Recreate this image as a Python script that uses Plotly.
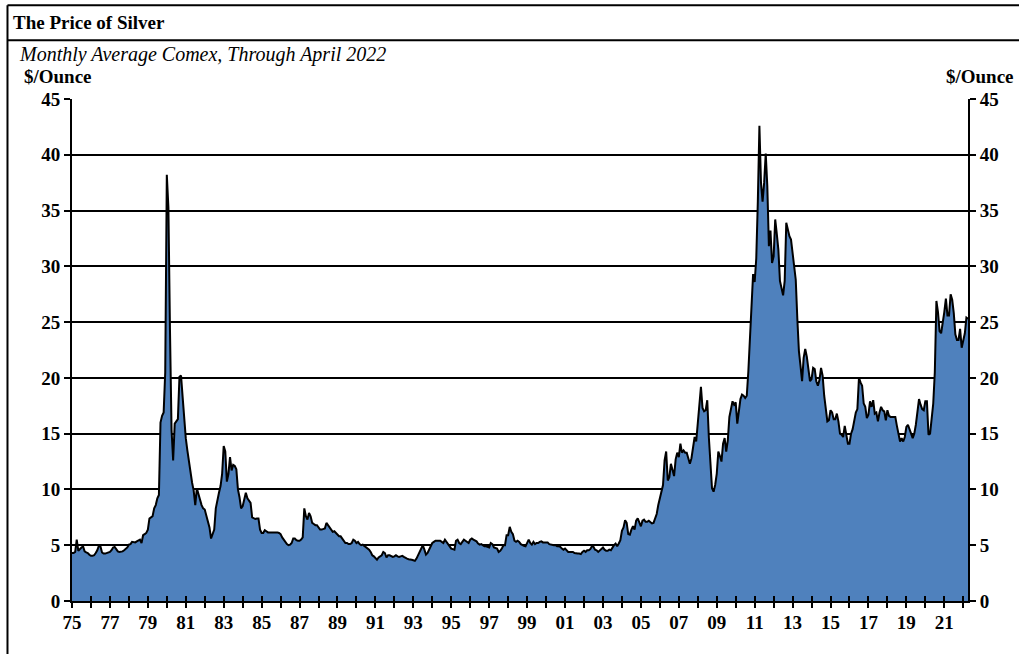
import plotly.graph_objects as go

# Silver, monthly average Comex price ($/oz), Jan 1975 - Apr 2022.
# Values, one row per year.
silver_1975_1984 = [
    4.30, 4.30, 4.40, 5.50, 4.50, 4.70, 4.80, 4.90, 4.45, 4.35, 4.30, 4.15,
    4.05, 4.05, 4.10, 4.30, 4.55, 4.95, 4.90, 4.35, 4.25, 4.25, 4.30, 4.40,
    4.40, 4.55, 4.80, 4.85, 4.65, 4.45, 4.40, 4.40, 4.45, 4.55, 4.65, 4.80,
    5.05, 5.10, 5.30, 5.30, 5.25, 5.35, 5.45, 5.50, 5.20, 5.90, 6.00, 6.10,
    6.40, 7.40, 7.50, 7.60, 8.30, 8.60, 9.20, 9.50, 16.00, 16.60, 16.90, 20.50,
    38.20, 35.30, 24.30, 15.30, 12.60, 15.90, 16.10, 16.30, 20.10, 20.20, 18.30, 16.00,
    14.60, 13.50, 12.40, 11.30, 10.60, 9.90, 8.60, 10.10, 9.50, 9.10, 8.60, 8.30,
    8.20, 7.70, 7.10, 6.60, 5.60, 6.00, 6.40, 8.30, 9.20, 9.70, 10.30, 11.40,
    13.90, 13.40, 10.70, 11.40, 12.90, 11.70, 12.20, 12.10, 11.80, 10.00, 9.30, 8.30,
    8.50, 9.10, 9.70, 9.20, 9.00, 8.80, 7.50, 7.40, 7.35, 7.40, 7.40, 6.40,
]
silver_1985_1994 = [
    6.10, 6.10, 6.35, 6.25, 6.15, 6.15, 6.15, 6.20, 6.15, 6.20, 6.15, 6.10,
    6.00, 5.70, 5.50, 5.20, 5.10, 5.00, 5.05, 5.20, 5.60, 5.60, 5.45, 5.40,
    5.40, 5.50, 5.70, 8.30, 7.60, 7.30, 7.90, 7.60, 7.00, 6.90, 6.80, 6.80,
    6.60, 6.40, 6.40, 6.45, 6.50, 7.00, 6.80, 6.50, 6.30, 6.20, 6.25, 6.10,
    5.90, 5.80, 5.80, 5.60, 5.40, 5.20, 5.20, 5.10, 5.10, 5.20, 5.50, 5.40,
    5.20, 5.30, 5.10, 5.00, 5.05, 4.95, 4.85, 4.75, 4.60, 4.40, 4.10, 4.00,
    3.80, 3.70, 3.90, 4.00, 4.10, 4.40, 4.30, 3.90, 4.10, 4.10, 4.05, 3.95,
    4.00, 4.10, 4.00, 3.95, 4.00, 4.05, 3.95, 3.85, 3.80, 3.75, 3.75, 3.70,
    3.65, 3.60, 3.80, 4.10, 4.40, 4.60, 5.00, 4.60, 4.15, 4.30, 4.60, 4.90,
    5.20, 5.30, 5.40, 5.40, 5.40, 5.40, 5.30, 5.20, 5.50, 5.30, 5.10, 4.80,
]
silver_1995_2004 = [
    4.70, 4.65, 4.60, 5.40, 5.50, 5.20, 5.10, 5.30, 5.50, 5.40, 5.30, 5.20,
    5.50, 5.60, 5.50, 5.40, 5.35, 5.15, 5.05, 5.10, 5.00, 4.90, 4.90, 4.85,
    4.80, 5.20, 5.10, 4.80, 4.75, 4.70, 4.40, 4.50, 4.70, 5.00, 5.00, 5.90,
    5.90, 6.65, 6.20, 6.00, 5.40, 5.30, 5.40, 5.30, 5.10, 5.00, 4.95, 4.90,
    5.20, 5.50, 5.20, 5.05, 5.30, 5.10, 5.20, 5.20, 5.30, 5.35, 5.25, 5.25,
    5.20, 5.25, 5.10, 5.05, 5.00, 5.00, 5.00, 4.90, 4.90, 4.85, 4.70, 4.60,
    4.70, 4.50, 4.40, 4.40, 4.40, 4.40, 4.30, 4.25, 4.25, 4.25, 4.20, 4.40,
    4.50, 4.40, 4.55, 4.55, 4.65, 4.90, 4.85, 4.60, 4.55, 4.40, 4.55, 4.70,
    4.80, 4.60, 4.50, 4.50, 4.60, 4.55, 4.80, 5.00, 5.15, 4.90, 5.15, 5.45,
    6.30, 6.60, 7.25, 7.00, 6.00, 5.95, 6.40, 6.70, 6.40, 7.20, 7.40, 7.00,
]
silver_2005_2014 = [
    6.70, 7.20, 7.30, 7.10, 7.10, 7.20, 7.10, 6.95, 7.00, 7.40, 7.80, 8.60,
    9.20, 9.70, 10.40, 12.60, 13.40, 10.80, 11.10, 12.30, 11.60, 11.20, 12.70, 13.30,
    12.90, 14.10, 13.30, 13.50, 13.30, 13.30, 12.80, 12.30, 12.80, 13.80, 14.70, 14.30,
    15.90, 17.60, 19.20, 17.30, 17.00, 17.10, 18.00, 14.70, 12.00, 10.10, 9.80, 10.40,
    11.40, 13.40, 13.00, 12.50, 14.10, 14.60, 13.40, 14.40, 16.50, 17.30, 17.90, 17.60,
    17.80, 15.90, 17.20, 18.10, 18.50, 18.40, 18.20, 18.40, 20.60, 23.30, 26.50, 29.30,
    28.60, 30.70, 35.80, 42.60, 37.50, 35.80, 37.50, 40.10, 37.20, 31.80, 33.20, 30.30,
    30.90, 34.20, 32.90, 31.50, 28.70, 28.00, 27.40, 28.70, 33.90, 33.30, 32.70, 32.40,
    31.10, 30.40, 28.80, 25.30, 22.40, 21.10, 19.70, 21.80, 22.60, 21.90, 20.80, 19.70,
    19.90, 20.90, 20.80, 19.70, 19.30, 19.80, 20.90, 20.20, 18.40, 17.20, 16.10, 16.20,
]
silver_2015_2022 = [
    17.10, 16.90, 16.30, 16.30, 16.80, 16.10, 15.00, 14.90, 14.70, 15.70, 14.80, 14.10,
    14.10, 15.00, 15.40, 16.30, 16.90, 17.20, 20.00, 19.60, 19.30, 17.70, 17.40, 16.40,
    16.70, 17.90, 17.40, 18.00, 16.80, 16.90, 16.10, 16.90, 17.40, 17.10, 17.00, 16.20,
    17.10, 16.60, 16.50, 16.50, 16.50, 16.50, 15.70, 15.00, 14.30, 14.60, 14.30, 14.70,
    15.60, 15.80, 15.30, 15.00, 14.60, 15.00, 15.80, 17.00, 18.10, 17.60, 17.20, 17.10,
    17.90, 17.90, 14.90, 15.00, 16.10, 17.70, 20.50, 26.90, 25.90, 24.20, 24.00, 24.80,
    25.90, 27.10, 25.60, 25.60, 27.50, 27.00, 25.80, 23.90, 23.40, 23.40, 24.40, 22.70,
    23.30, 24.00, 25.40, 25.30,
]

prices = silver_1975_1984 + silver_1985_1994 + silver_1995_2004 + silver_2005_2014 + silver_2015_2022
start_year = 1975
months = [start_year + i / 12 for i in range(len(prices))]
x_end = months[-1]

year_ticks = list(range(1975, 2023))
label_years = list(range(1975, 2022, 2))
label_text = [f"{y % 100:02d}" for y in label_years]
y_ticks = list(range(0, 46, 5))

serif = "Liberation Serif, Times New Roman, serif"
tick_font = dict(family=serif, size=19, color="black", weight="bold")

fig = go.Figure()
# blue area on the main axes
fig.add_trace(
    go.Scatter(
        x=months,
        y=prices,
        mode="lines",
        line=dict(color="rgba(0,0,0,0)", width=0),
        fill="tozeroy",
        fillcolor="#4F81BD",
        showlegend=False,
        hoverinfo="skip",
    )
)
# black outline on the overlay axes (gives the right-hand scale and inner ticks)
fig.add_trace(
    go.Scatter(
        x=months,
        y=prices,
        xaxis="x2",
        yaxis="y2",
        mode="lines",
        line=dict(color="black", width=2),
        showlegend=False,
        hoverinfo="x+y",
    )
)

fig.update_layout(
    width=1019,
    height=654,
    margin=dict(l=72, r=51, t=99, b=53),
    paper_bgcolor="white",
    plot_bgcolor="white",
    showlegend=False,
    xaxis=dict(
        range=[start_year, x_end],
        tickvals=label_years,
        ticktext=label_text,
        ticks="outside",
        ticklen=5,
        tickwidth=2,
        tickcolor="black",
        ticklabelstandoff=-2,
        minor=dict(tickvals=year_ticks, ticks="outside", ticklen=5, tickwidth=2, tickcolor="black"),
        showline=True,
        linecolor="black",
        linewidth=2,
        showgrid=False,
        zeroline=False,
        tickfont=tick_font,
    ),
    xaxis2=dict(
        range=[start_year, x_end],
        overlaying="x",
        anchor="y2",
        side="bottom",
        tickvals=year_ticks,
        ticks="inside",
        ticklen=5,
        tickwidth=2,
        tickcolor="black",
        showticklabels=False,
        showgrid=False,
        zeroline=False,
    ),
    yaxis=dict(
        range=[0, 45],
        tickvals=y_ticks,
        ticks="outside",
        ticklen=6,
        tickwidth=2,
        tickcolor="black",
        showline=True,
        linecolor="black",
        linewidth=2,
        showgrid=True,
        gridcolor="black",
        gridwidth=2,
        zeroline=False,
        tickfont=tick_font,
    ),
    yaxis2=dict(
        range=[0, 45],
        overlaying="y",
        anchor="x2",
        side="right",
        tickvals=y_ticks,
        ticks="outside",
        ticklen=6,
        tickwidth=2,
        tickcolor="black",
        showline=True,
        linecolor="black",
        linewidth=2,
        showgrid=False,
        zeroline=False,
        tickfont=tick_font,
    ),
)

# frame around the chart: top rule, rule under the title, left edge
frame = dict(color="black", width=2)
fig.add_shape(type="line", xref="paper", yref="paper", x0=-0.072, x1=1.06, y0=1.187, y1=1.187, line=frame)
fig.add_shape(type="line", xref="paper", yref="paper", x0=-0.072, x1=1.06, y0=1.117, y1=1.117, line=frame)
fig.add_shape(type="line", xref="paper", yref="paper", x0=-0.072, x1=-0.072, y0=1.187, y1=-0.11, line=frame)

fig.add_annotation(
    text="The Price of Silver", xref="paper", yref="paper", x=-0.068, y=1.153,
    xanchor="left", yanchor="middle", showarrow=False,
    font=dict(family=serif, size=19, color="black", weight="bold"),
)
fig.add_annotation(
    text="Monthly Average Comex, Through April 2022", xref="paper", yref="paper", x=-0.061, y=1.088,
    xanchor="left", yanchor="middle", showarrow=False,
    font=dict(family=serif, size=20, color="black", style="italic"),
)
fig.add_annotation(
    text="$/Ounce", xref="paper", yref="paper", x=-0.056, y=1.044,
    xanchor="left", yanchor="middle", showarrow=False,
    font=dict(family=serif, size=19, color="black", weight="bold"),
)
fig.add_annotation(
    text="$/Ounce", xref="paper", yref="paper", x=1.054, y=1.044,
    xanchor="right", yanchor="middle", showarrow=False,
    font=dict(family=serif, size=19, color="black", weight="bold"),
)

# the page's default 8px body margin would push the figure off the window
fig.write_html(
    "out.html",
    config={"displayModeBar": False},
    post_script="document.body.style.margin='0';",
)
